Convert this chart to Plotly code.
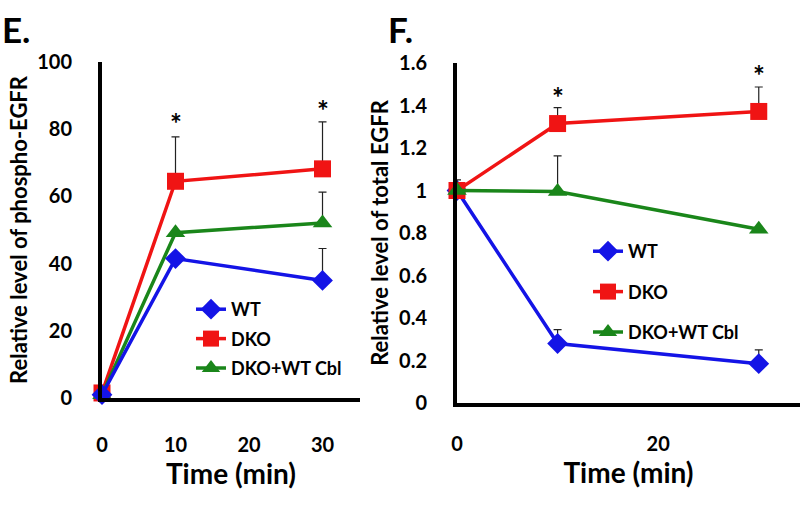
import plotly.graph_objects as go

# ---------------- data ----------------
time = [0, 10, 30]
series_names = ["WT", "DKO", "DKO+WT Cbl"]

# Panel E: relative level of phospho-EGFR
phospho_wt = [1, 41.5, 35]
phospho_dko = [1.5, 64.5, 68.2]
phospho_cbl = [1, 49.2, 52.1]
phospho_wt_err = [0, 0, 9.5]
phospho_dko_err = [0, 13.2, 14]
phospho_cbl_err = [0, 0, 9.2]
phospho_star_x = [10, 30]
phospho_star_y = [81.8, 85.8]

# Panel F: relative level of total EGFR
total_wt = [1, 0.28, 0.185]
total_dko = [1, 1.315, 1.372]
total_cbl = [1, 0.995, 0.818]
total_wt_err = [0, 0.065, 0.065]
total_dko_err = [0, 0.075, 0.115]
total_cbl_err = [0.05, 0.168, 0]
total_star_x = [10, 30]
total_star_y = [1.44, 1.545]

e_xticks = [0, 10, 20, 30]
e_yticks = [0, 20, 40, 60, 80, 100]
f_xticks = [0, 20]
f_yticks = [0, 0.2, 0.4, 0.6, 0.8, 1.0, 1.2, 1.4, 1.6]
f_yticklabels = ["0", "0.2", "0.4", "0.6", "0.8", "1", "1.2", "1.4", "1.6"]

# ---------------- styles ----------------
FONT = "Lato"
colors = ["#1414e6", "#f01414", "#1a861a"]
symbols = ["diamond", "square", "triangle-up"]
msizes = [16, 17, 17]

fig = go.Figure()

def add_series(xs, ys, errs, i, xa, ya, legend):
    fig.add_trace(go.Scatter(
        x=xs, y=ys, name=series_names[i], mode="lines+markers",
        xaxis=xa, yaxis=ya, legend=legend, legendgroup=legend + str(i),
        legendrank=i + 1,
        line=dict(color=colors[i], width=3.5),
        marker=dict(symbol=symbols[i], size=msizes[i], color=colors[i]),
        error_y=dict(type="data", symmetric=False, array=errs,
                     arrayminus=[0] * len(errs), color="#222222",
                     thickness=1.2, width=4),
        cliponaxis=False,
    ))

# drawing order so that blue is on top in panel E like the reference
add_series(time, phospho_dko, phospho_dko_err, 1, "x", "y", "legend")
add_series(time, phospho_cbl, phospho_cbl_err, 2, "x", "y", "legend")
add_series(time, phospho_wt, phospho_wt_err, 0, "x", "y", "legend")
add_series(time, total_wt, total_wt_err, 0, "x2", "y2", "legend2")
add_series(time, total_dko, total_dko_err, 1, "x2", "y2", "legend2")
add_series(time, total_cbl, total_cbl_err, 2, "x2", "y2", "legend2")

BOLD = dict(family=FONT, color="black", weight="bold")

annotations = []
for sx, sy in zip(phospho_star_x, phospho_star_y):
    annotations.append(dict(x=sx, y=sy, xref="x", yref="y", text="*",
                            showarrow=False, font=dict(size=28, **BOLD)))
for sx, sy in zip(total_star_x, total_star_y):
    annotations.append(dict(x=sx, y=sy, xref="x2", yref="y2", text="*",
                            showarrow=False, font=dict(size=28, **BOLD)))
annotations.append(dict(x=0.0, y=1 - 29 / 505, xref="paper", yref="paper", text="E.",
                        showarrow=False, xanchor="left", yanchor="middle",
                        font=dict(size=35, **BOLD)))
annotations.append(dict(x=386 / 800, y=1 - 29 / 505, xref="paper", yref="paper", text="F.",
                        showarrow=False, xanchor="left", yanchor="middle",
                        font=dict(size=35, **BOLD)))

axis_common = dict(showgrid=False, zeroline=False, showline=True, linecolor="black",
                   linewidth=4, ticks="", tickfont=dict(size=20, **BOLD),
                   automargin=False)

fig.update_layout(
    width=800, height=505,
    margin=dict(l=0, r=0, t=0, b=0),
    paper_bgcolor="white", plot_bgcolor="white",
    font=dict(family=FONT, color="black"),
    annotations=annotations,
    xaxis=dict(domain=[102 / 800, 360 / 800], range=[0, 35.1], tickvals=e_xticks,
               ticklabelstandoff=26, anchor="y",
               title=dict(text="Time (min)", font=dict(size=28, **BOLD), standoff=8),
               **axis_common),
    yaxis=dict(domain=[1 - 398 / 505, 1 - 62 / 505], range=[0, 100], tickvals=e_yticks,
               ticklabelstandoff=22, anchor="x",
               title=dict(text="Relative level of phospho-EGFR", font=dict(size=22, **BOLD), standoff=4),
               **axis_common),
    xaxis2=dict(domain=[457 / 800, 1.0], range=[0, 34.1], tickvals=f_xticks,
                ticklabelstandoff=20, anchor="y2",
                title=dict(text="Time (min)", font=dict(size=28, **BOLD), standoff=8),
                **axis_common),
    yaxis2=dict(domain=[1 - 403 / 505, 1 - 63 / 505], range=[0, 1.6], tickvals=f_yticks,
                ticktext=f_yticklabels, ticklabelstandoff=22, anchor="x2",
                title=dict(text="Relative level of total EGFR", font=dict(size=22, **BOLD), standoff=5),
                **axis_common),
    legend=dict(x=191 / 800, y=1 - 291 / 505, xanchor="left", yanchor="top",
                font=dict(size=18, **BOLD), bgcolor="rgba(0,0,0,0)",
                tracegroupgap=3, traceorder="grouped"),
    legend2=dict(x=588 / 800, y=1 - 233 / 505, xanchor="left", yanchor="top",
                 font=dict(size=18, **BOLD), bgcolor="rgba(0,0,0,0)",
                 tracegroupgap=14, traceorder="grouped"),
    showlegend=True,
)

fig.write_html("out.html", config={"displayModeBar": False},
               post_script="document.body.style.margin='0';document.body.style.padding='0';")
